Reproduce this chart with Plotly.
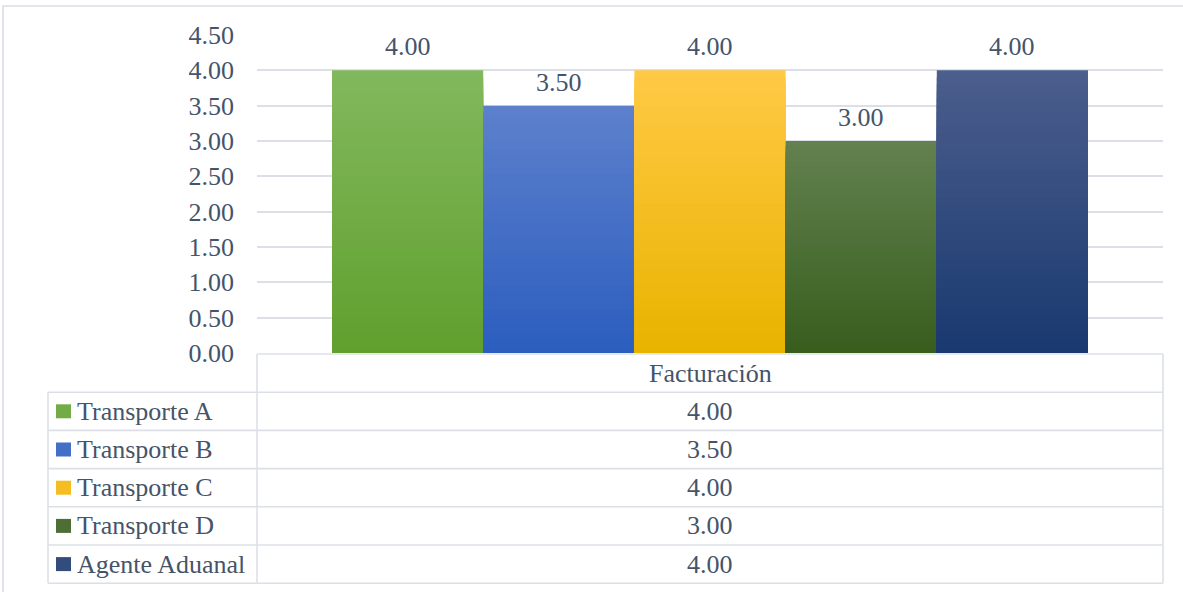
import plotly.graph_objects as go

# ---- data ----
category = "Facturación"
series_names = ["Transporte A", "Transporte B", "Transporte C", "Transporte D", "Agente Aduanal"]
series_values = [4.00, 3.50, 4.00, 3.00, 4.00]
# (top colour, bottom colour) of each bar's vertical gradient
series_colors = [
    ("#82B85D", "#60A02E"),
    ("#5C80CC", "#2C5EBF"),
    ("#FFC945", "#E9B300"),
    ("#62814F", "#385D1D"),
    ("#4B5E8C", "#1A3970"),
]
y_ticks = [0, 0.5, 1.0, 1.5, 2.0, 2.5, 3.0, 3.5, 4.0, 4.5]

# ---- layout geometry (pixels) ----
W, H = 1183, 592
M_L, M_R, M_T, M_B = 257, 20, 35, 239
PW = W - M_L - M_R
PH = H - M_T - M_B
BARGAP = 0.1656

FONT = "Liberation Serif"
TXT = "#44546A"
LINE = "#DCE0E6"
FS = 26


def px_x(px):
    return (px - M_L) / PW


def px_y(py):
    return (H - M_B - py) / PH


def hexrgb(h):
    h = h.lstrip("#")
    return tuple(int(h[i:i + 2], 16) for i in (0, 2, 4))


def mix(c1, c2, t):
    a, b = hexrgb(c1), hexrgb(c2)
    return "rgb(%d,%d,%d)" % tuple(round(a[i] + (b[i] - a[i]) * t) for i in range(3))


fig = go.Figure()

# Gradient bars: stacked-in-place layers, each shorter and darker than the last
N_LAYERS = 40
for name, val, (ctop, cbot) in zip(series_names, series_values, series_colors):
    for k in range(N_LAYERS):
        frac = (N_LAYERS - k) / N_LAYERS
        fig.add_trace(go.Bar(
            x=[category], y=[val * frac],
            name=name, offsetgroup=name,
            marker=dict(color=mix(ctop, cbot, k / (N_LAYERS - 1)), line=dict(width=0)),
            showlegend=False,
            hoverinfo="skip" if k else "x+y+name",
        ))

# Value labels above each bar
n = len(series_values)
bw = (1 - BARGAP) / n
for i, val in enumerate(series_values):
    xc = -(1 - BARGAP) / 2 + bw * (i + 0.5)
    fig.add_annotation(x=xc, y=val, xref="x", yref="y", text=f"{val:.2f}",
                       showarrow=False, yanchor="bottom", yshift=7,
                       font=dict(family=FONT, size=FS, color=TXT))

shapes = []
annots = []

# Data table below the plot
row_h = 38.2
top = H - M_B + 1
rows_y = [top + row_h * r for r in range(len(series_names) + 2)]
x_left, x_mid, x_right = 48, M_L, M_L + PW


def hline(y, x0, x1):
    shapes.append(dict(type="line", xref="paper", yref="paper",
                       x0=px_x(x0), x1=px_x(x1), y0=px_y(y), y1=px_y(y),
                       line=dict(color=LINE, width=1.6)))


def vline(x, y0, y1):
    shapes.append(dict(type="line", xref="paper", yref="paper",
                       x0=px_x(x), x1=px_x(x), y0=px_y(y0), y1=px_y(y1),
                       line=dict(color=LINE, width=1.6)))


hline(rows_y[0], x_mid, x_right)
for y in rows_y[1:]:
    hline(y, x_left, x_right)
vline(x_left, rows_y[1], rows_y[-1])
vline(x_mid, rows_y[0], rows_y[-1])
vline(x_right, rows_y[0], rows_y[-1])

# Header row with the category
annots.append(dict(x=px_x((x_mid + x_right) / 2), y=px_y((rows_y[0] + rows_y[1]) / 2),
                   xref="paper", yref="paper", text=category, showarrow=False,
                   xanchor="center", yanchor="middle",
                   font=dict(family=FONT, size=FS, color=TXT)))

KEY = 14
for r, (name, val, (ctop, cbot)) in enumerate(zip(series_names, series_values, series_colors)):
    yc = (rows_y[r + 1] + rows_y[r + 2]) / 2
    # legend key square
    shapes.append(dict(type="rect", xref="paper", yref="paper",
                       x0=px_x(56), x1=px_x(71),
                       y0=px_y(yc + KEY / 2), y1=px_y(yc - KEY / 2),
                       fillcolor=mix(ctop, cbot, 0.5), line=dict(width=0)))
    annots.append(dict(x=px_x(75), y=px_y(yc), xref="paper", yref="paper",
                       text=name, showarrow=False, xanchor="left", yanchor="middle",
                       font=dict(family=FONT, size=FS, color=TXT)))
    annots.append(dict(x=px_x((x_mid + x_right) / 2), y=px_y(yc), xref="paper", yref="paper",
                       text=f"{val:.2f}", showarrow=False,
                       xanchor="center", yanchor="middle",
                       font=dict(family=FONT, size=FS, color=TXT)))

# Outer chart border
shapes.append(dict(type="rect", xref="paper", yref="paper",
                   x0=px_x(3), x1=px_x(W + 20), y0=px_y(H + 20), y1=px_y(6),
                   line=dict(color="#D9DDE3", width=1.6), fillcolor="rgba(0,0,0,0)",
                   layer="below"))

for a in annots:
    fig.add_annotation(**a)

fig.update_layout(
    width=W, height=H,
    margin=dict(l=M_L, r=M_R, t=M_T, b=M_B),
    paper_bgcolor="white", plot_bgcolor="white",
    barmode="group", bargap=BARGAP, bargroupgap=0,
    showlegend=False,
    shapes=shapes,
    font=dict(family=FONT, size=FS, color=TXT),
    xaxis=dict(showticklabels=False, showgrid=False, zeroline=False, showline=False,
               fixedrange=True),
    yaxis=dict(range=[0, 4.5], tickvals=y_ticks, tickformat=".2f",
               showgrid=True, gridcolor=LINE, gridwidth=1.6, zeroline=False,
               showline=False, ticks="", ticklabelstandoff=22,
               tickfont=dict(family=FONT, size=FS, color=TXT), fixedrange=True),
)

fig.write_html("out.html", config={"displayModeBar": False})
